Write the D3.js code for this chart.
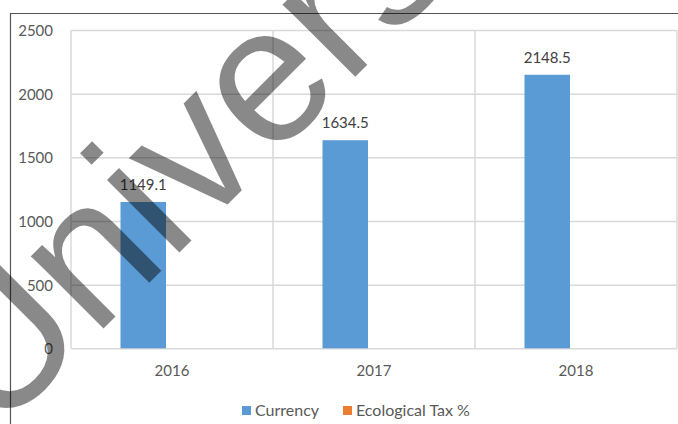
<!DOCTYPE html>
<html>
<head>
<meta charset="utf-8">
<script src="https://cdn.jsdelivr.net/npm/d3@7/dist/d3.min.js"></script>
<style>
  html, body { margin: 0; padding: 0; background: #fff; }
  svg { display: block; }
</style>
</head>
<body>
<svg id="chart" width="678" height="424"></svg>
<script>
// ---- data ----
const categories = ["2016", "2017", "2018"];
const seriesNames = ["Currency", "Ecological Tax %"];
const currency = [1149.1, 1634.5, 2148.5];
const ecologicalTax = [0, 0, 0];
const yTicks = [0, 500, 1000, 1500, 2000, 2500];
const colors = ["#5b9bd5", "#ed7d31"];

const svg = d3.select("#chart");
const W = 678, H = 424;
const plot = { left: 71, right: 677, top: 30, bottom: 348.3 };
const FONT = "Lato, 'Open Sans', sans-serif";

svg.append("rect").attr("width", W).attr("height", H).attr("fill", "#fff");

const x0 = d3.scaleBand().domain(categories).range([plot.left, plot.right]).padding(0);
const bw = 45.5;
const x1 = d3.scaleBand().domain(seriesNames).range([49.5, 49.5 + 2 * bw]).padding(0);
const y = d3.scaleLinear().domain([0, 2500]).range([plot.bottom, plot.top]);

// horizontal gridlines
const gy = svg.append("g")
  .attr("transform", `translate(${plot.left},0)`)
  .call(d3.axisLeft(y).tickValues(yTicks).tickSize(-(plot.right - plot.left)).tickFormat(""));
gy.select(".domain").remove();
gy.selectAll("line").attr("stroke", "#d9d9d9").attr("stroke-width", 1.5);

// vertical category separators
const xEdges = categories.map(c => x0(c)).concat([x0(categories[categories.length - 1]) + x0.bandwidth()]);
svg.append("g").selectAll("line").data(xEdges).join("line")
  .attr("x1", d => d).attr("x2", d => d)
  .attr("y1", plot.top).attr("y2", plot.bottom)
  .attr("stroke", "#d9d9d9").attr("stroke-width", 1.5);

// y tick labels
const ya = svg.append("g")
  .attr("transform", `translate(53,0)`)
  .call(d3.axisLeft(y).tickValues(yTicks).tickSize(0).tickPadding(0).tickFormat(d3.format("d")));
ya.select(".domain").remove();
ya.selectAll("text").attr("font-family", FONT).attr("font-size", 15).attr("fill", "#595959").attr("dy", "0.36em");

// x labels
const xa = svg.append("g")
  .attr("transform", `translate(0,${plot.bottom})`)
  .call(d3.axisBottom(x0).tickSize(0).tickPadding(17));
xa.select(".domain").remove();
xa.selectAll("text").attr("font-family", FONT).attr("font-size", 15).attr("fill", "#595959");

// bars
const rows = categories.map((c, i) => ({ cat: c, vals: [currency[i], ecologicalTax[i]] }));
const groups = svg.append("g").selectAll("g").data(rows).join("g")
  .attr("transform", d => `translate(${x0(d.cat)},0)`);
groups.selectAll("rect").data(d => d.vals.map((v, j) => ({ s: seriesNames[j], v, j })))
  .join("rect")
  .attr("x", d => x1(d.s))
  .attr("width", x1.bandwidth())
  .attr("y", d => y(d.v))
  .attr("height", d => y(0) - y(d.v))
  .attr("fill", d => colors[d.j]);

// data labels (currency)
groups.append("text")
  .attr("x", x1(seriesNames[0]) + x1.bandwidth() / 2)
  .attr("y", (d) => y(d.vals[0]) - 12)
  .attr("text-anchor", "middle")
  .attr("font-family", FONT).attr("font-size", 15).attr("fill", "#404040")
  .text(d => d3.format(".1f")(d.vals[0]));

// legend
const legendX = [242, 343];
const lg = svg.append("g").selectAll("g").data(seriesNames).join("g")
  .attr("transform", (d, i) => `translate(${legendX[i]},406)`);
lg.append("rect").attr("width", 9).attr("height", 9).attr("fill", (d, i) => colors[i]);
lg.append("text").attr("x", 13).attr("y", 10)
  .attr("font-family", FONT).attr("font-size", 16).attr("fill", "#595959")
  .text(d => d);

// outer frame lines
svg.append("line").attr("x1", 10).attr("x2", W).attr("y1", 13.5).attr("y2", 13.5)
  .attr("stroke", "#555").attr("stroke-width", 1.2);
svg.append("line").attr("x1", 10.5).attr("x2", 10.5).attr("y1", 13).attr("y2", H)
  .attr("stroke", "#555").attr("stroke-width", 1.2);

// watermark
svg.append("g").attr("opacity", 0.46).append("text")
  .attr("transform", "translate(-5,437) rotate(-45)")
  .attr("font-family", "'Liberation Sans', Arial, sans-serif")
  .attr("font-size", 194)
  .attr("fill", "#000")
  .text("University");
</script>
</body>
</html>
